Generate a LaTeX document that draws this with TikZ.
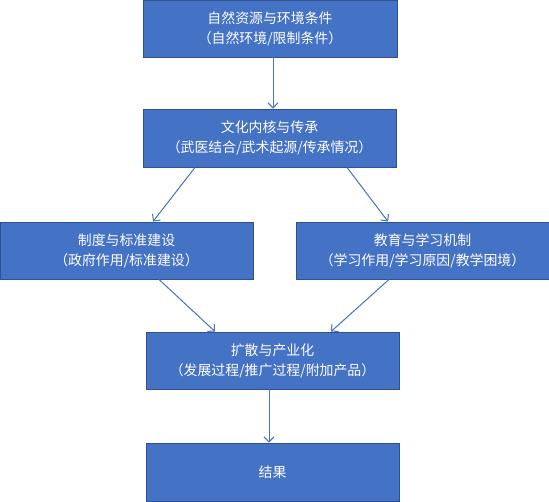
\documentclass[tikz,border=0pt]{standalone}
\usepackage{fontspec}
\setmainfont{Noto Sans CJK SC}
\usetikzlibrary{arrows.meta}
\definecolor{boxblue}{HTML}{4472C4}
\definecolor{boxedge}{HTML}{2F528F}
\tikzset{
  box/.style={draw=boxedge, line width=0.9pt, fill=boxblue, text=white, align=center,
    inner sep=0pt, minimum height=57pt, minimum width=253pt,
    font=\fontsize{13.9pt}{20pt}\selectfont},
  conn/.style={draw=boxblue, line width=1pt, -{Straight Barb[length=5pt,width=10pt,line width=1pt]}}
}
\begin{document}
\begin{tikzpicture}[x=1pt,y=1pt]
\useasboundingbox (0,0) rectangle (549,501);
\node[box, minimum width=254pt] (b1) at (270,472.5) {自然资源与环境条件\\（自然环境/限制条件）};
\node[box, minimum height=58pt] (b2) at (269.5,363) {文化内核与传承\\（武医结合/武术起源/传承情况）};
\node[box] (b3) at (126.5,250.5) {制度与标准建设\\（政府作用/标准建设）};
\node[box] (b4) at (422.5,250.5) {教育与学习机制\\（学习作用/学习原因/教学困境）};
\node[box] (b5) at (272.5,140.5) {扩散与产业化\\（发展过程/推广过程/附加产品）};
\node[box, minimum height=58pt] (b6) at (272.5,29) {结果};
\draw[conn] ([xshift=3pt]b1.south) -- ([xshift=3.5pt]b2.north);
\draw[conn] ([xshift=-74.5pt]b2.south) -- ([xshift=26.5pt]b3.north);
\draw[conn] ([xshift=77.5pt]b2.south) -- ([xshift=-34.5pt]b4.north);
\draw[conn] ([xshift=32.5pt]b3.south) -- ([xshift=-57.5pt]b5.north);
\draw[conn] ([xshift=-33.5pt]b4.south) -- ([xshift=58.5pt]b5.north);
\draw[conn] ([xshift=-3.5pt]b5.south) -- ([xshift=-3.5pt]b6.north);
\end{tikzpicture}
\end{document}
